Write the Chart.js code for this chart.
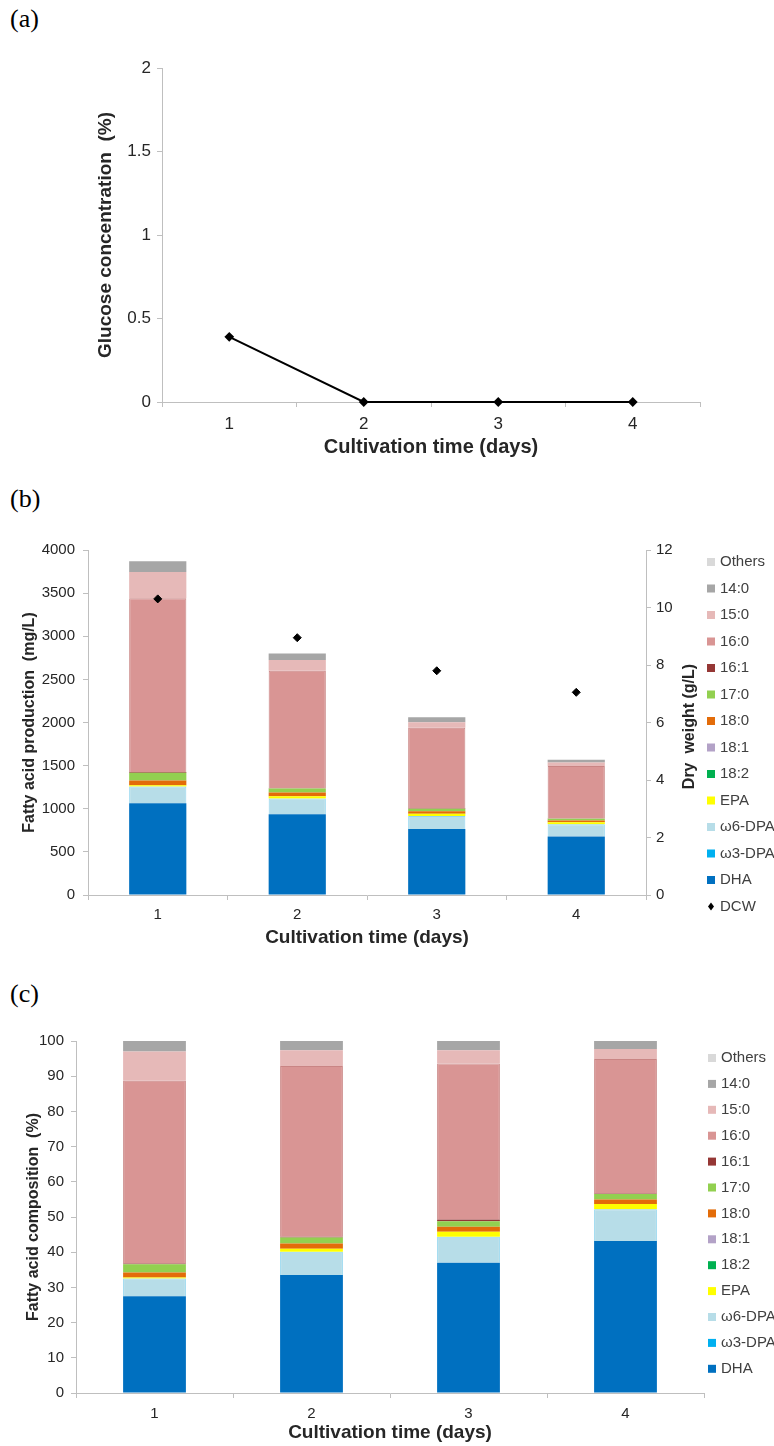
<!DOCTYPE html>
<html>
<head>
<meta charset="utf-8">
<script src="https://cdn.jsdelivr.net/npm/chart.js@4.4.1/dist/chart.umd.min.js"></script>
<style>
  body { margin: 0; width: 774px; height: 1446px; background: #fff; position: relative; overflow: hidden; }
  .panel-label { position: absolute; left: 10px; font-family: "Liberation Serif", "Times New Roman", serif; font-size: 26px; color: #000; line-height: 30px; }
  canvas { position: absolute; left: 0; }
</style>
</head>
<body>
<div class="panel-label" style="top:4px">(a)</div>
<div class="panel-label" style="top:484px">(b)</div>
<div class="panel-label" style="top:979px">(c)</div>
<canvas id="glucoseChart" width="774" height="430" style="top:40px"></canvas>
<canvas id="productionChart" width="774" height="420" style="top:530px"></canvas>
<canvas id="compositionChart" width="774" height="426" style="top:1020px"></canvas>
<script>
// Cultivation days (x categories)
const days = ['1', '2', '3', '4'];

// (a) residual glucose, %
const glucose = [0.39, 0, 0, 0];

// Fatty acid names, bottom of the stack first, and their fill colours
const acidNames = ['DHA', 'ω3-DPA', 'ω6-DPA', 'EPA', '18:2', '18:1', '18:0', '17:0', '16:1', '16:0', '15:0', '14:0', 'Others'];
const acidColors = ['#0070c0', '#00b0f0', '#b7dde8', '#ffff00', '#00b050', '#b3a2c7', '#e36c09', '#92d050', '#953735', '#d99594', '#e6b9b8', '#a6a6a6', '#d9d9d9'];

// (b) fatty acid production, mg/L
const dhaMg    = [1063, 935, 765, 678];
const w3dpaMg  = [0, 0, 0, 0];
const w6dpaMg  = [195, 185, 150, 142];
const epaMg    = [15, 25, 28, 24];
const c182Mg   = [0, 0, 0, 0];
const c181Mg   = [0, 0, 0, 0];
const c180Mg   = [55, 42, 28, 20];
const c170Mg   = [90, 47, 28, 20];
const c161Mg   = [8, 5, 6, 3];
const c160Mg   = [2015, 1360, 935, 608];
const c150Mg   = [305, 126, 62, 40];
const c140Mg   = [125, 75, 58, 33];
const othersMg = [0, 0, 0, 0];

// (b) dry cell weight, g/L
const dcw = [10.3, 8.95, 7.8, 7.05];

// (c) fatty acid composition, %
const dhaPct    = [27.5, 33.5, 37.0, 43.2];
const w3dpaPct  = [0, 0, 0, 0];
const w6dpaPct  = [5.0, 6.6, 7.4, 9.0];
const epaPct    = [0.3, 0.9, 1.4, 1.5];
const c182Pct   = [0, 0, 0, 0];
const c181Pct   = [0, 0, 0, 0];
const c180Pct   = [1.4, 1.5, 1.4, 1.3];
const c170Pct   = [2.4, 1.7, 1.6, 1.5];
const c161Pct   = [0.2, 0.2, 0.5, 0.2];
const c160Pct   = [51.9, 48.5, 44.3, 38.2];
const c150Pct   = [8.3, 4.5, 3.8, 2.8];
const c140Pct   = [3.0, 2.6, 2.6, 2.3];
const othersPct = [0, 0, 0, 0];

const axisGray = '#bfbfbf';
const textColor = '#262626';
const sans = '"Liberation Sans", Arial, sans-serif';

// a few segments get a slightly darker edge
const acidBorders = { '16:0': '#c98584', 'ω6-DPA': '#92d5ee' };

function acidDatasets(series) {
  return series.map((values, i) => ({
    type: 'bar',
    label: acidNames[i],
    data: values,
    backgroundColor: acidColors[i],
    borderColor: acidBorders[acidNames[i]] || acidColors[i],
    borderWidth: acidBorders[acidNames[i]] ? 1 : 0,
    order: 1,
    yAxisID: 'y'
  }));
}

function plainTicks(v) { return String(v); }

function tickGrid() {
  return { drawOnChartArea: false, drawTicks: true, tickLength: 5, color: axisGray };
}

// legend drawn down the right edge: stacked bars top-first, then the marker series
const sideLegend = {
  id: 'sideLegend',
  afterDraw(chart, args, opts) {
    const ctx = chart.ctx;
    ctx.save();
    ctx.font = '15px ' + sans;
    ctx.textBaseline = 'middle';
    let y = opts.top;
    const bars = chart.data.datasets.filter(d => d.type === 'bar').slice().reverse();
    bars.forEach(ds => {
      ctx.fillStyle = ds.backgroundColor;
      ctx.fillRect(opts.x, y - 4, 8, 8);
      ctx.fillStyle = '#404040';
      ctx.fillText(ds.label, opts.x + 13, y);
      y += opts.step;
    });
    chart.data.datasets.filter(d => d.type === 'line').forEach(ds => {
      ctx.fillStyle = '#000';
      ctx.beginPath();
      ctx.moveTo(opts.x + 4, y - 4);
      ctx.lineTo(opts.x + 7, y);
      ctx.lineTo(opts.x + 4, y + 4);
      ctx.lineTo(opts.x + 1, y);
      ctx.closePath();
      ctx.fill();
      ctx.fillStyle = '#404040';
      ctx.fillText(ds.label, opts.x + 13, y);
      y += opts.step;
    });
    ctx.restore();
  }
};

// right-hand axis title reading bottom to top
const rightTitle = {
  id: 'rightTitle',
  afterDraw(chart, args, opts) {
    if (!opts.text) return;
    const ctx = chart.ctx;
    const area = chart.chartArea;
    ctx.save();
    ctx.font = 'bold 16px ' + sans;
    ctx.fillStyle = textColor;
    ctx.textAlign = 'center';
    ctx.textBaseline = 'middle';
    ctx.translate(opts.x, (area.top + area.bottom) / 2 + 4);
    ctx.rotate(-Math.PI / 2);
    ctx.fillText(opts.text, 0, 0);
    ctx.restore();
  }
};

Chart.register(sideLegend, rightTitle);

// (a) glucose concentration
new Chart(document.getElementById('glucoseChart'), {
  type: 'line',
  data: {
    labels: days,
    datasets: [{
      label: 'Glucose',
      data: glucose,
      borderColor: '#000',
      borderWidth: 2,
      tension: 0,
      pointStyle: 'rectRot',
      pointRadius: 3.5,
      pointBackgroundColor: '#000',
      pointBorderColor: '#000',
      clip: false
    }]
  },
  options: {
    responsive: false,
    animation: false,
    layout: { padding: { top: 28, right: 74, left: 0, bottom: 0 } },
    plugins: { legend: { display: false }, tooltip: { enabled: false }, sideLegend: false, rightTitle: false },
    scales: {
      x: {
        offset: true,
        grid: Object.assign(tickGrid(), { offset: true }),
        border: { color: axisGray },
        ticks: { font: { family: sans, size: 17 }, color: textColor, padding: 7 },
        title: { display: true, text: 'Cultivation time (days)', color: textColor, font: { family: sans, size: 20, weight: 'bold' }, padding: { top: 0, bottom: 11 } },
        afterFit(s) { s.height = 68; }
      },
      y: {
        min: 0, max: 2,
        ticks: { stepSize: 0.5, callback: plainTicks, font: { family: sans, size: 17 }, color: textColor, padding: 6 },
        grid: tickGrid(),
        border: { color: axisGray },
        title: { display: true, text: 'Glucose concentration  (%)', color: textColor, font: { family: sans, size: 19, weight: 'bold' }, padding: { top: 94, bottom: 0 } },
        afterFit(s) { s.width = 162; }
      }
    }
  }
});

// (b) fatty acid production with dry cell weight
new Chart(document.getElementById('productionChart'), {
  type: 'bar',
  data: {
    labels: days,
    datasets: [
      {
        type: 'line',
        label: 'DCW',
        data: dcw,
        yAxisID: 'y1',
        showLine: false,
        pointStyle: 'rectRot',
        pointRadius: 4,
        pointBackgroundColor: '#000',
        pointBorderColor: '#000',
        order: 0,
        clip: false
      },
      ...acidDatasets([dhaMg, w3dpaMg, w6dpaMg, epaMg, c182Mg, c181Mg, c180Mg, c170Mg, c161Mg, c160Mg, c150Mg, c140Mg, othersMg])
    ]
  },
  options: {
    responsive: false,
    animation: false,
    datasets: { bar: { barPercentage: 0.41, categoryPercentage: 1 } },
    layout: { padding: { top: 20, right: 70, left: 0, bottom: 0 } },
    plugins: {
      legend: { display: false },
      tooltip: { enabled: false },
      sideLegend: { x: 707, top: 32, step: 26.5 },
      rightTitle: { x: 690, text: 'Dry  weight (g/L)' }
    },
    scales: {
      x: {
        stacked: true,
        grid: Object.assign(tickGrid(), { offset: true }),
        border: { color: axisGray },
        ticks: { font: { family: sans, size: 15 }, color: textColor, padding: 6 },
        title: { display: true, text: 'Cultivation time (days)', color: textColor, font: { family: sans, size: 19, weight: 'bold' }, padding: { top: 0, bottom: 1 } },
        afterFit(s) { s.height = 55; }
      },
      y: {
        stacked: true,
        min: 0, max: 4000,
        ticks: { stepSize: 500, callback: plainTicks, font: { family: sans, size: 15 }, color: textColor, padding: 8 },
        grid: tickGrid(),
        border: { color: axisGray },
        title: { display: true, text: 'Fatty acid production  (mg/L)', color: textColor, font: { family: sans, size: 16, weight: 'bold' }, padding: { top: 20, bottom: 0 } },
        afterFit(s) { s.width = 88; }
      },
      y1: {
        position: 'right',
        min: 0, max: 12,
        ticks: { stepSize: 2, callback: plainTicks, font: { family: sans, size: 15 }, color: textColor, padding: 5 },
        grid: tickGrid(),
        border: { color: axisGray },
        afterFit(s) { s.width = 58; }
      }
    }
  }
});

// (c) fatty acid composition
new Chart(document.getElementById('compositionChart'), {
  type: 'bar',
  data: {
    labels: days,
    datasets: acidDatasets([dhaPct, w3dpaPct, w6dpaPct, epaPct, c182Pct, c181Pct, c180Pct, c170Pct, c161Pct, c160Pct, c150Pct, c140Pct, othersPct])
  },
  options: {
    responsive: false,
    animation: false,
    datasets: { bar: { barPercentage: 0.40, categoryPercentage: 1 } },
    layout: { padding: { top: 21, right: 70, left: 0, bottom: 0 } },
    plugins: {
      legend: { display: false },
      tooltip: { enabled: false },
      sideLegend: { x: 708, top: 38, step: 25.9 },
      rightTitle: false
    },
    scales: {
      x: {
        stacked: true,
        grid: Object.assign(tickGrid(), { offset: true }),
        border: { color: axisGray },
        ticks: { font: { family: sans, size: 15 }, color: textColor, padding: 7 },
        title: { display: true, text: 'Cultivation time (days)', color: textColor, font: { family: sans, size: 19, weight: 'bold' }, padding: { top: 0, bottom: 2 } },
        afterFit(s) { s.height = 53; }
      },
      y: {
        stacked: true,
        min: 0, max: 100,
        ticks: { stepSize: 10, callback: plainTicks, font: { family: sans, size: 15 }, color: textColor, padding: 7 },
        grid: tickGrid(),
        border: { color: axisGray },
        title: { display: true, text: 'Fatty acid composition  (%)', color: textColor, font: { family: sans, size: 16, weight: 'bold' }, padding: { top: 24, bottom: 0 } },
        afterFit(s) { s.width = 76; }
      }
    }
  }
});
</script>
</body>
</html>
